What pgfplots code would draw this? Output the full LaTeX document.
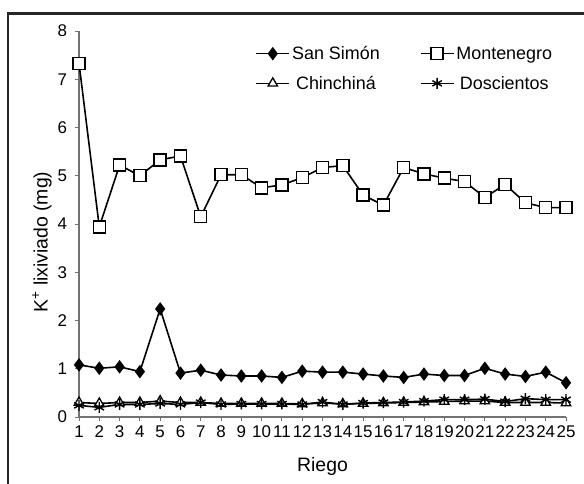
\documentclass[border=0pt]{standalone}
\usepackage{fontspec}
\setmainfont{Liberation Sans}
\usepackage{pgfplots}
\usepackage{pgfplotstable}
\pgfplotsset{compat=1.18}

% riego, San Simon, Montenegro, Chinchina, Doscientos
\pgfplotstableread{
x  ss    mo    ch    do
1  1.08  7.33  0.30  0.24
2  1.01  3.94  0.28  0.20
3  1.04  5.22  0.30  0.26
4  0.94  5.00  0.30  0.26
5  2.24  5.33  0.33  0.28
6  0.91  5.41  0.30  0.26
7  0.97  4.15  0.30  0.30
8  0.87  5.02  0.28  0.26
9  0.85  5.02  0.28  0.27
10 0.85  4.75  0.28  0.27
11 0.82  4.81  0.28  0.27
12 0.95  4.96  0.27  0.26
13 0.93  5.17  0.29  0.31
14 0.93  5.21  0.27  0.26
15 0.89  4.60  0.28  0.29
16 0.85  4.39  0.29  0.30
17 0.82  5.17  0.30  0.31
18 0.89  5.04  0.31  0.33
19 0.86  4.95  0.32  0.36
20 0.86  4.88  0.33  0.36
21 1.01  4.55  0.33  0.37
22 0.89  4.82  0.30  0.32
23 0.84  4.44  0.30  0.38
24 0.93  4.34  0.30  0.36
25 0.71  4.34  0.29  0.36
}\riego

\begin{document}
\begin{tikzpicture}[x=1bp,y=1bp]
\useasboundingbox (0,0) rectangle (584,484);
\draw[line width=2.2bp,black!85] (8,-20) -- (8,470.5) -- (620,470.5);
\begin{axis}[
  at={(79bp,67bp)}, anchor=south west,
  scale only axis, width=487bp, height=386bp,
  xmin=1, xmax=25, ymin=0, ymax=8,
  axis lines=left, axis line style={-, black!55, line width=1.1bp},
  xtick={1,...,25}, ytick={0,...,8},
  tick align=outside, major tick length=4.5bp,
  tick style={black!55, line width=0.9bp},
  /pgf/number format/assume math mode=true,
  ticklabel style={font=\fontsize{17}{19}\selectfont},
  xticklabel style={inner xsep=0pt, yshift=-1bp},
  yticklabel style={xshift=-4bp},
  xlabel={Riego}, ylabel={K\textsuperscript{+} lixiviado (mg)},
  label style={font=\fontsize{19.5}{22}\selectfont},
  xlabel style={at={(axis description cs:0.5,-0.127)}, anchor=center},
  ylabel style={at={(axis description cs:-0.076,0.453)}, anchor=center},
  legend columns=2,
  legend style={draw=none, fill=none, at={(axis description cs:0.362,0.966)},
    anchor=north west, font=\fontsize{18}{20}\selectfont,
    /tikz/every even column/.append style={column sep=38bp},
    row sep=11bp, inner sep=0pt},
  legend image code/.code={
    \draw[mark repeat=2,mark phase=2,#1]
      plot coordinates {(0bp,0bp) (16.5bp,0bp) (33bp,0bp)};},
  every axis plot/.append style={black, line width=1.6bp},
]
\addplot[mark=diamond*, mark size=5.5bp, mark options={solid, fill=black}] table[x=x,y=ss]{\riego};
\addlegendentry{San Simón}
\addplot[mark=square*, mark size=6bp, mark options={solid, fill=white, line width=1.4bp}] table[x=x,y=mo]{\riego};
\addlegendentry{Montenegro}
\addplot[mark=triangle*, mark size=5.5bp, mark options={solid, fill=white, line width=1.3bp}] table[x=x,y=ch]{\riego};
\addlegendentry{Chinchiná}
\addplot[mark=asterisk, mark size=5.5bp, mark options={solid, line width=1.4bp}] table[x=x,y=do]{\riego};
\addlegendentry{Doscientos}
\end{axis}
\end{tikzpicture}
\end{document}
